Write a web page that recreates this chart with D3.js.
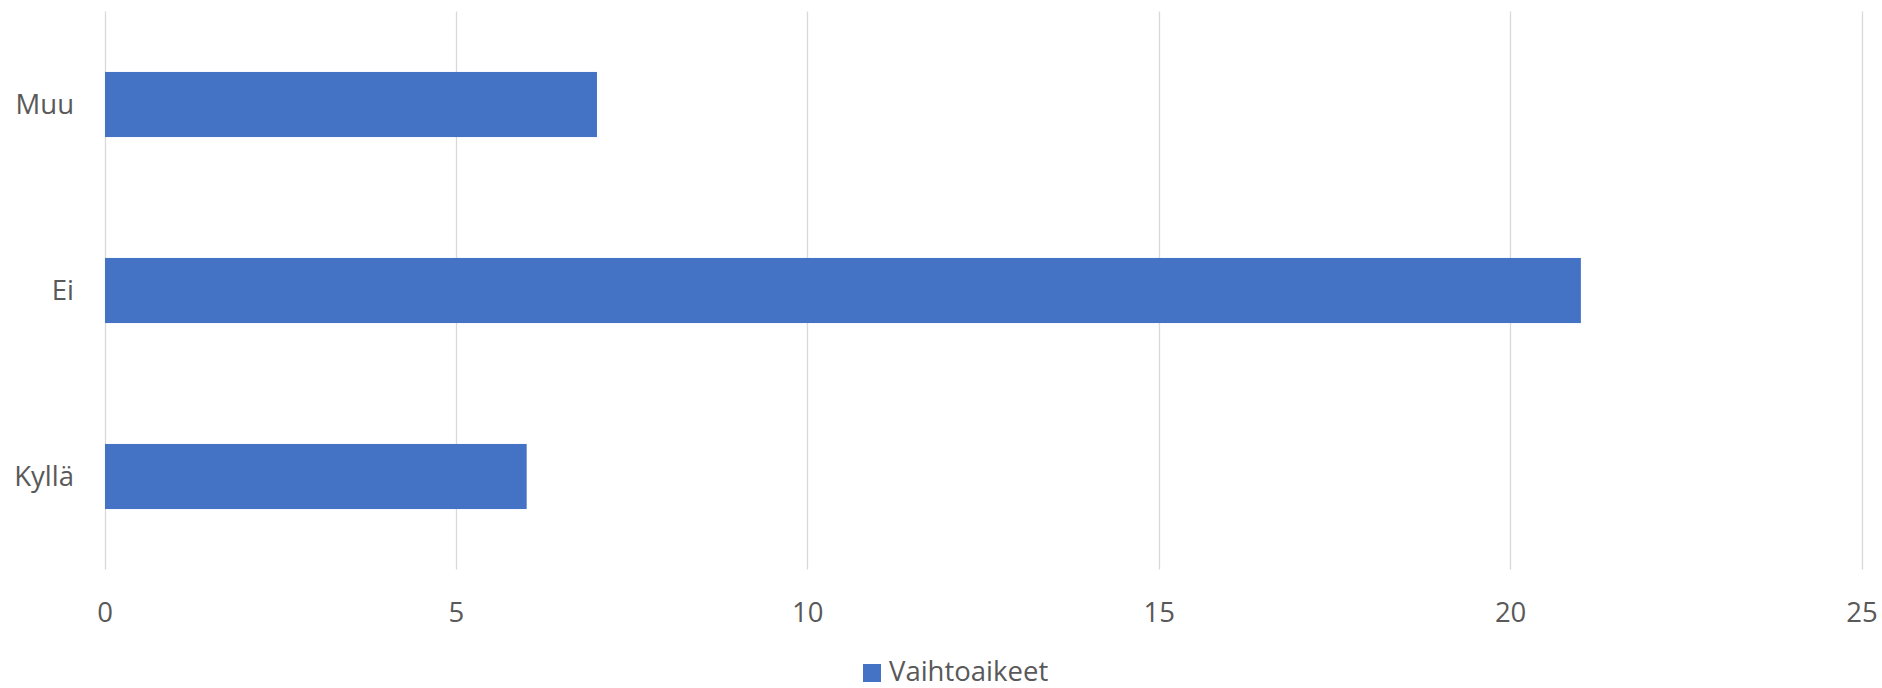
<!DOCTYPE html>
<html>
<head>
<meta charset="utf-8">
<script src="https://cdn.jsdelivr.net/npm/d3@7/dist/d3.min.js"></script>
<style>
  html, body { margin: 0; padding: 0; background: #fff; }
  svg { display: block; }
  text { font-family: "Open Sans", "Liberation Sans", sans-serif; fill: #595959; }
</style>
</head>
<body>
<svg id="chart" width="1882" height="688"></svg>
<script>
const categories = ["Kyllä", "Ei", "Muu"];
const values = [6, 21, 7];
const seriesName = "Vaihtoaikeet";
const xTicks = [0, 5, 10, 15, 20, 25];

const W = 1882, H = 688;
const FS = 27.5;
const margin = { left: 104.5, right: 20.5, top: 11.5, bottom: 118.5 };
const svg = d3.select("#chart");

const x = d3.scaleLinear().domain([0, 25]).range([margin.left, W - margin.right]);
const y = d3.scaleBand()
  .domain(categories.slice().reverse())
  .range([margin.top, H - margin.bottom])
  .paddingInner(0.65).paddingOuter(0.325);

// gridlines
svg.append("g").selectAll("line").data(xTicks).join("line")
  .attr("x1", d => Math.round(x(d)) + 0.5).attr("x2", d => Math.round(x(d)) + 0.5)
  .attr("y1", margin.top).attr("y2", H - margin.bottom)
  .attr("stroke", "#d9d9d9").attr("stroke-width", 1.3);

// bars
svg.append("g").selectAll("rect").data(categories).join("rect")
  .attr("x", x(0) + 0.5)
  .attr("y", d => y(d))
  .attr("width", (d, i) => x(values[i]) - x(0))
  .attr("height", y.bandwidth())
  .attr("fill", "#4472c4");

// x axis labels
const xAxis = d3.axisBottom(x).tickValues(xTicks).tickSize(0).tickPadding(0);
const gx = svg.append("g").attr("transform", `translate(0, ${H - margin.bottom})`).call(xAxis);
gx.select(".domain").remove();
gx.selectAll("text")
  .attr("y", 52).attr("dy", null)
  .attr("font-size", FS).attr("fill", "#595959")
  .style("font-family", '"Open Sans", "Liberation Sans", sans-serif');

// y axis labels
const yAxis = d3.axisLeft(y).tickSize(0).tickPadding(0);
const gy = svg.append("g").attr("transform", `translate(${74}, 0)`).call(yAxis);
gy.select(".domain").remove();
gy.selectAll("text")
  .attr("x", 0).attr("dy", "0.36em")
  .attr("font-size", FS).attr("fill", "#595959")
  .style("font-family", '"Open Sans", "Liberation Sans", sans-serif');

// legend
const lg = svg.append("g");
lg.append("rect").attr("x", 863).attr("y", 664).attr("width", 18).attr("height", 18).attr("fill", "#4472c4");
lg.append("text").attr("x", 889).attr("y", 681).attr("font-size", FS).text(seriesName);
</script>
</body>
</html>
